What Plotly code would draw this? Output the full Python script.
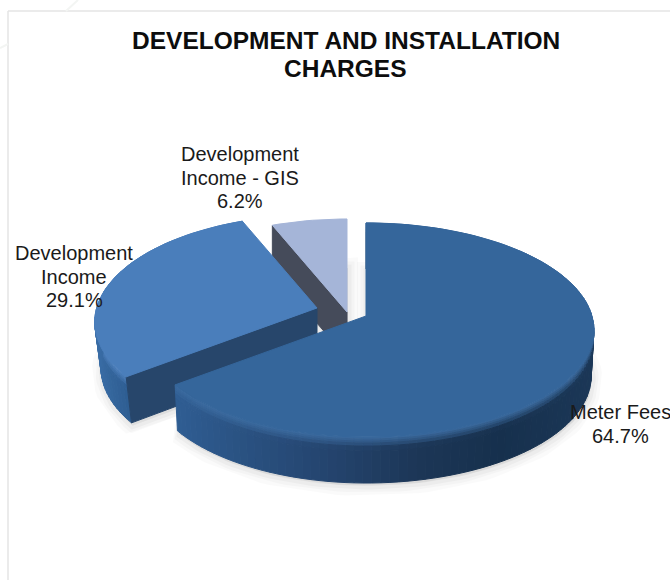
import math
import plotly.graph_objects as go

# Chart data
slice_names = ["Meter Fees", "Development Income", "Development Income - GIS"]
slice_shares = [64.7, 29.1, 6.2]
title_lines = ["DEVELOPMENT AND INSTALLATION", "CHARGES"]
label_lines = [["Meter Fees"], ["Development", "Income"], ["Development", "Income - GIS"]]

# Drawing geometry, in canvas units
APEX = [(366, 316), (317, 308), (347, 312)]
RX, RY, TILT = 226, 105.2, 0.1308
LEFT_SQUEEZE = 0.975
DEPTH = 46
BASE_TAPER = [0.012, 0.028, 0.0]
BANDS = [0, 2, 4, 6, 9, 14, DEPTH]
LABEL_CENTRE_X = [620, 74, 240]
LABEL_FIRST_Y = [412, 253, 154]
LINE_STEP = 23.5

TOP_COLOURS = ["#35669b", "#4a7ebb", "#a5b5d8"]
RADIAL_COLOURS = [None, "#27466b", "#454b5a"]
# Outer wall shading as (canvas x, colour) stops
WALL_STOPS = [
    [(177, "#2f5d92"), (240, "#2a5282"), (340, "#23426b"), (420, "#1c3656"), (500, "#16304d"), (594, "#1b3757")],
    [(93, "#3a6da6"), (110, "#33649a"), (135, "#2b5a8e"), (180, "#2b5a8e")],
    None,
]


def rgb(h):
    return tuple(int(h[i:i + 2], 16) for i in (1, 3, 5))


def mix(a, b, t):
    ca, cb = rgb(a), rgb(b)
    return "#%02x%02x%02x" % tuple(round(ca[i] + (cb[i] - ca[i]) * t) for i in range(3))


def wall_colour(stops, x):
    if x <= stops[0][0]:
        return stops[0][1]
    for (x0, c0), (x1, c1) in zip(stops, stops[1:]):
        if x <= x1:
            return mix(c0, c1, (x - x0) / (x1 - x0))
    return stops[-1][1]


def project(apex, angle_deg):
    a = math.radians(angle_deg)
    u, v = math.sin(a), math.cos(a)
    w = 1 + TILT * v
    sx = RX * u / w
    return apex[0] + (sx * LEFT_SQUEEZE if u < 0 else sx), apex[1] - RY * v / w


def arc(apex, start, end, step=2.0):
    n = max(2, int((end - start) / step) + 1)
    return [project(apex, start + (end - start) * i / (n - 1)) for i in range(n)]


def lower(point, apex, taper, depth):
    # A rim point dropped by depth, drawn slightly in towards the slice's apex
    return point[0] + (apex[0] - point[0]) * taper * depth / DEPTH, point[1] + depth


def polygon(points, fill, line=None, width=1):
    xs = [p[0] for p in points] + [points[0][0]]
    ys = [p[1] for p in points] + [points[0][1]]
    return go.Scatter(
        x=xs, y=ys, mode="lines", fill="toself", fillcolor=fill,
        line=dict(color=line or fill, width=width),
        hoverinfo="skip", showlegend=False,
    )


fig = go.Figure()

# Slice angles run clockwise from twelve o'clock
total = sum(slice_shares)
spans, running = [], 0.0
for share in slice_shares:
    spans.append((running, running + share / total * 360))
    running += share / total * 360

# Painted back to front: GIS, Development Income, Meter Fees
for i in (2, 1, 0):
    start, end = spans[i]
    apex = APEX[i]
    taper = BASE_TAPER[i]
    rim = arc(apex, start, end)

    # Soft drop shadow under the base of the slice
    base = [lower(p, apex, taper, DEPTH) for p in [apex] + rim]
    base = [(x + 1, y + 3) for x, y in base]
    for width, alpha in ((20, 0.018), (13, 0.022), (7, 0.03)):
        fig.add_trace(polygon(base, "rgba(0,0,0,%s)" % alpha, "rgba(0,0,0,%s)" % alpha, width))

    # Outer wall, with a bevel fading from the top colour near the rim
    if WALL_STOPS[i]:
        for p0, p1 in zip(rim, rim[1:]):
            wall = wall_colour(WALL_STOPS[i], (p0[0] + p1[0]) / 2)
            for d0, d1 in zip(BANDS, BANDS[1:]):
                fade = min(1.0, (d0 + d1) / 2 / 12)
                colour = mix(mix(TOP_COLOURS[i], "#6f9bd0", 0.12), wall, fade)
                fig.add_trace(polygon(
                    [lower(p0, apex, taper, d0), lower(p1, apex, taper, d0),
                     lower(p1, apex, taper, d1), lower(p0, apex, taper, d1)],
                    colour,
                ))

    # Cut face along the slice's first radius, which looks towards the viewer
    if RADIAL_COLOURS[i]:
        edge = project(apex, start)
        fig.add_trace(polygon(
            [apex, edge, lower(edge, apex, taper, DEPTH), lower(apex, apex, taper, DEPTH)],
            RADIAL_COLOURS[i],
        ))

    # Top face
    fig.add_trace(polygon([apex] + rim, TOP_COLOURS[i]))

annotations = []
for line, y in zip(title_lines, (40, 68)):
    annotations.append(dict(
        x=345.5, y=y, text=line, showarrow=False, xanchor="center", yanchor="middle",
        font=dict(family="Liberation Sans", size=24.5, color="#0d0d0d", weight=700),
    ))
for i, lines in enumerate(label_lines):
    rows = lines + ["%.1f%%" % slice_shares[i]]
    for k, row in enumerate(rows):
        annotations.append(dict(
            x=LABEL_CENTRE_X[i], y=LABEL_FIRST_Y[i] + k * LINE_STEP, text=row,
            showarrow=False, xanchor="center", yanchor="middle",
            font=dict(family="Liberation Sans", size=20, color="#1a1a1a"),
        ))

frame = "#e4e4e4"
fig.update_layout(
    width=670, height=580, autosize=False,
    margin=dict(l=0, r=0, t=0, b=0),
    paper_bgcolor="#ffffff", plot_bgcolor="#ffffff",
    xaxis=dict(range=[0, 670], visible=False, fixedrange=True),
    yaxis=dict(range=[580, 0], visible=False, fixedrange=True),
    annotations=annotations,
    shapes=[
        dict(type="line", x0=8, x1=8, y0=11, y1=580, line=dict(color=frame, width=1.5), layer="below"),
        dict(type="line", x0=8, x1=670, y0=11, y1=11, line=dict(color=frame, width=1.5), layer="below"),
        dict(type="line", x0=78, x1=66, y0=0, y1=11, line=dict(color="#f3f5f3", width=2), layer="below"),
        dict(type="line", x0=0, x1=8, y0=48, y1=44, line=dict(color="#f3f5f3", width=2), layer="below"),
    ],
)

fig.write_html("out.html", config=dict(displayModeBar=False))
